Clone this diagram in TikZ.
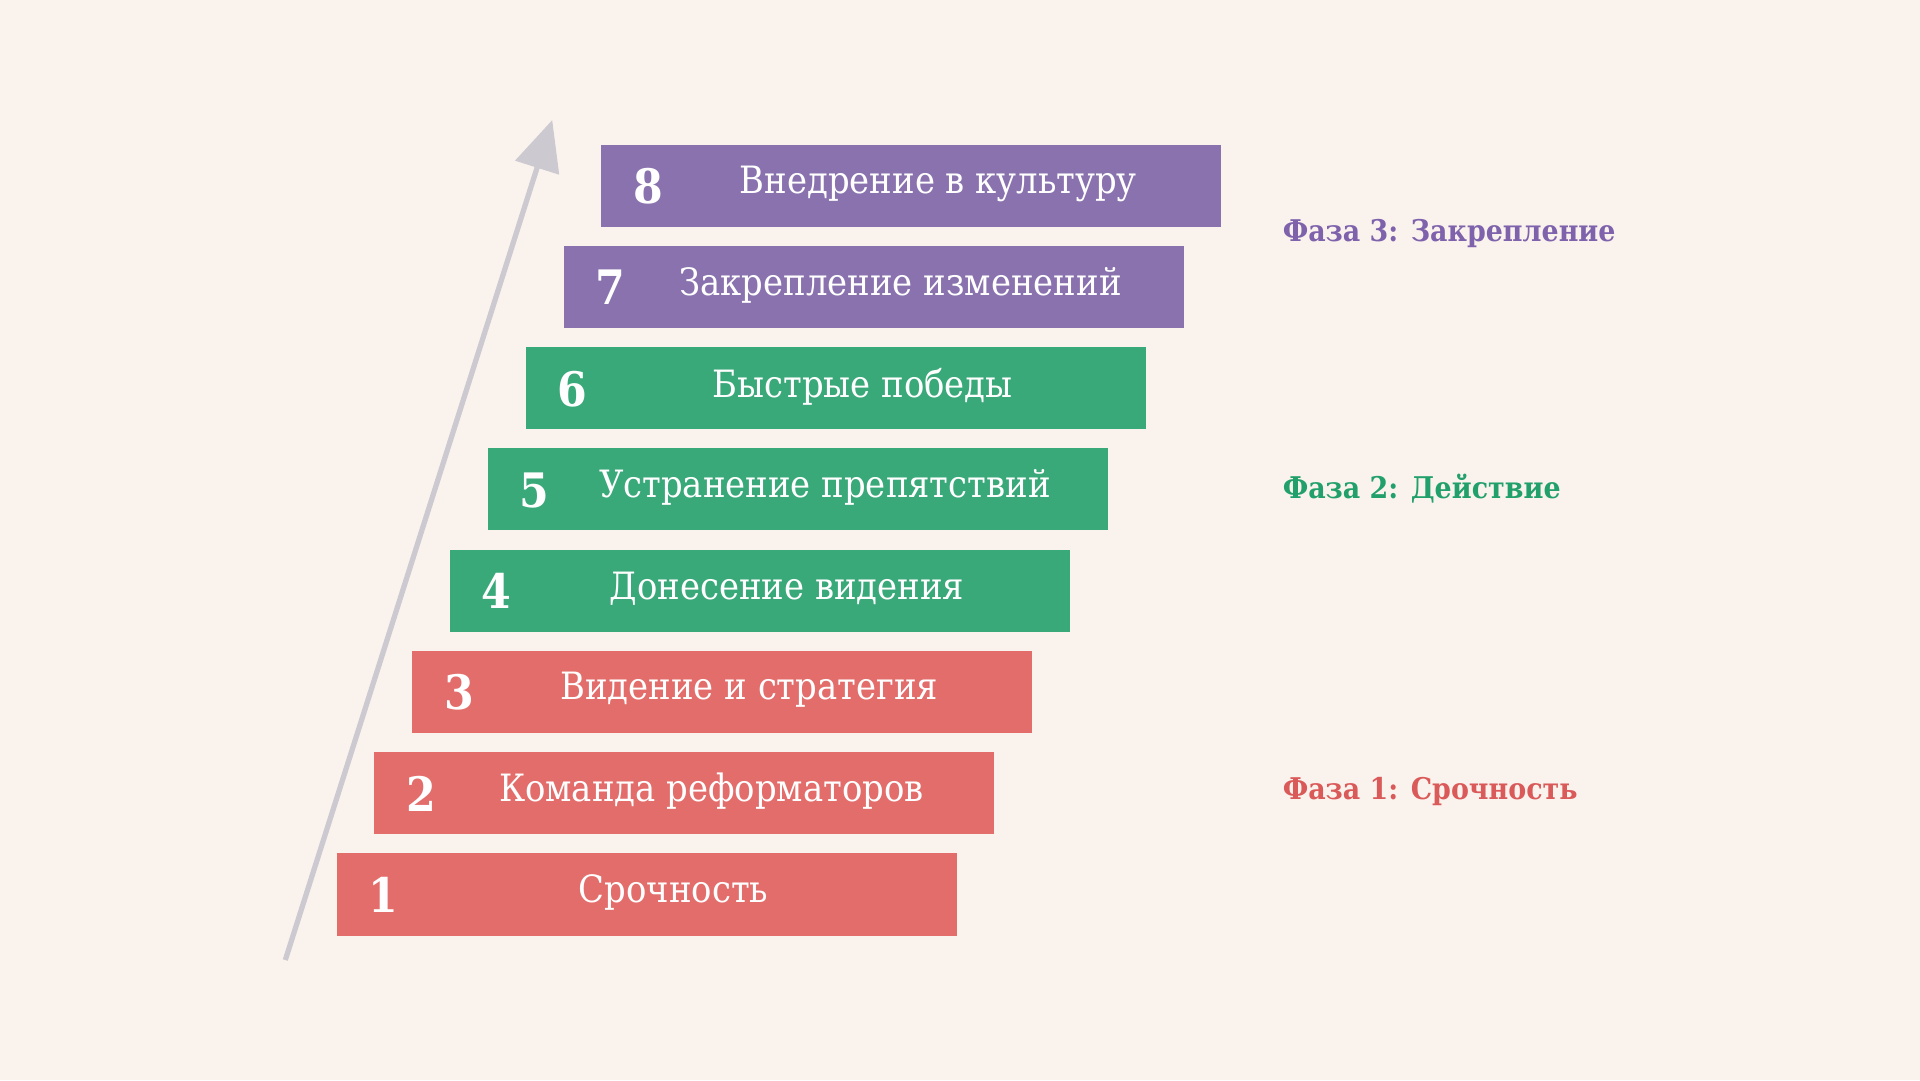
\documentclass[tikz,border=0pt]{standalone}
\usepackage{fontspec}
\setmainfont{DejaVu Serif}[FakeStretch=0.9]
\usetikzlibrary{arrows.meta}

\definecolor{bgcol}{HTML}{FAF3ED}
\definecolor{redstep}{HTML}{E36D6B}
\definecolor{greenstep}{HTML}{3AA97A}
\definecolor{purplestep}{HTML}{8A72AF}
\definecolor{redphase}{HTML}{DA5959}
\definecolor{greenphase}{HTML}{22A06C}
\definecolor{purplephase}{HTML}{7E62AC}
\definecolor{arrowcol}{HTML}{CDC9D1}

\tikzset{
  stepbox/.style={rectangle, inner sep=0pt, minimum width=6.196cm, minimum height=0.82cm},
  stepnum/.style={text=white, font=\bfseries\fontsize{13.5}{15}\selectfont},
  steptext/.style={text=white, font=\fontsize{10.7}{12}\selectfont},
  phase/.style={anchor=west, inner sep=0pt, font=\bfseries\fontsize{8.5}{10}\selectfont}
}

\begin{document}
\begin{tikzpicture}[x=0.012245cm, y=-0.012245cm]
	\fill[bgcol] (0,0) rectangle (1568,882);
	\useasboundingbox (0,0) rectangle (1568,882);

	% arrow
	\coordinate (a0) at (233,784);
	\coordinate (a1) at (451,98);
	\draw[arrowcol, line width=1.5pt, -{Triangle[length=0.5cm, width=0.45cm]}] (a0) -- (a1);

	% steps
	\node (s1) [stepbox, fill=redstep] at (528,730.5) {};
	\node (s2) [stepbox, fill=redstep] at (558.9,647.8) {};
	\node (s3) [stepbox, fill=redstep] at (589.8,565.1) {};
	\node (s4) [stepbox, fill=greenstep] at (620.7,482.4) {};
	\node (s5) [stepbox, fill=greenstep] at (651.6,399.7) {};
	\node (s6) [stepbox, fill=greenstep] at (682.5,317) {};
	\node (s7) [stepbox, fill=purplestep] at (713.4,234.3) {};
	\node (s8) [stepbox, fill=purplestep] at (744.3,151.6) {};

	\node (n1) [stepnum] at (313,731) {1};
	\node (n2) [stepnum] at (343.9,648.3) {2};
	\node (n3) [stepnum] at (374.8,565.6) {3};
	\node (n4) [stepnum] at (405.7,482.9) {4};
	\node (n5) [stepnum] at (436.6,400.2) {5};
	\node (n6) [stepnum] at (467.5,317.5) {6};
	\node (n7) [stepnum] at (498.4,234.8) {7};
	\node (n8) [stepnum] at (529.3,152.1) {8};

	\node (t1) [steptext] at (550,729) {Срочность};
	\node (t2) [steptext] at (580.9,646.3) {Команда реформаторов};
	\node (t3) [steptext] at (611.8,563.6) {Видение и стратегия};
	\node (t4) [steptext] at (642.7,480.9) {Донесение видения};
	\node (t5) [steptext] at (673.6,398.2) {Устранение препятствий};
	\node (t6) [steptext] at (704.5,315.5) {Быстрые победы};
	\node (t7) [steptext] at (735.4,232.8) {Закрепление изменений};
	\node (t8) [steptext] at (766.3,150.1) {Внедрение в культуру};

	% phases
	\node (p3) [phase, text=purplephase] at (1047,191) {Фаза 3: Закрепление};
	\node (p2) [phase, text=greenphase] at (1047,399) {Фаза 2: Действие};
	\node (p1) [phase, text=redphase] at (1047,646) {Фаза 1: Срочность};
\end{tikzpicture}
\end{document}
